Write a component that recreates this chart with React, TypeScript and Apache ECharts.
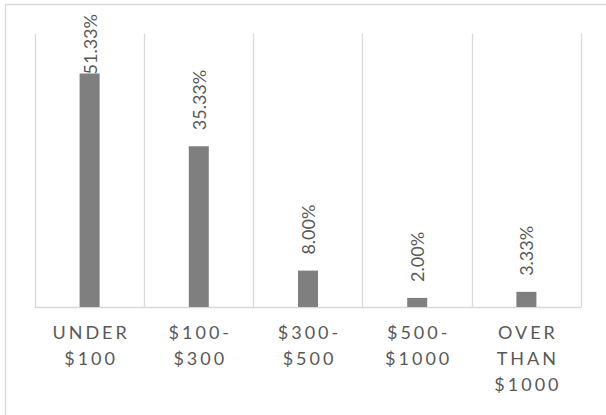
import React, { useEffect, useRef } from "react";
import * as echarts from "echarts";

const categories = ["UNDER\n$100", "$100-\n$300", "$300-\n$500", "$500-\n$1000", "OVER\nTHAN\n$1000"];
const values = [51.33, 35.33, 8.0, 2.0, 3.33];
const yMax = 60;

const FONT = "Lato, 'Open Sans', sans-serif";
const TEXT = "#595959";
const LINE = "#d9d9d9";
const BAR = "#7f7f7f";

export default function App() {
  const ref = useRef<HTMLDivElement>(null);
  useEffect(() => {
    const el = ref.current!;
    const chart = echarts.init(el, null, { renderer: "svg" });
    const seriesData = values.map((v, i) =>
      i === 0 ? { value: v, label: { distance: -1 } } : { value: v }
    );
    chart.setOption({
      animation: false,
      backgroundColor: "#ffffff",
      graphic: [
        {
          type: "rect",
          silent: true,
          z: -10,
          shape: { x: 5.5, y: 4.5, width: 1000, height: 1000 },
          style: { fill: "none", stroke: LINE, lineWidth: 1.3 },
        },
      ],
      grid: { left: 35, right: 25, top: 34, bottom: 108 },
      xAxis: {
        type: "category",
        data: categories,
        axisLine: { show: true, lineStyle: { color: LINE, width: 1.3 } },
        axisTick: { show: false },
        splitLine: { show: true, interval: 0, lineStyle: { color: LINE, width: 1.3 } },
        axisLabel: {
          interval: 0,
          color: TEXT,
          fontFamily: FONT,
          fontSize: 18,
          lineHeight: 26,
          margin: 12,
        },
      },
      yAxis: {
        type: "value",
        min: 0,
        max: yMax,
        show: false,
        splitLine: { show: false },
      },
      series: [
        {
          type: "bar",
          data: seriesData,
          barWidth: 20,
          itemStyle: { color: BAR },
          label: {
            show: true,
            position: "top",
            rotate: 90,
            align: "left",
            verticalAlign: "middle",
            distance: 16,
            color: TEXT,
            fontFamily: FONT,
            fontSize: 18,
            formatter: (p: any) => Number(p.value).toFixed(2) + "%",
          },
        },
      ],
    });
    const apply = () => {
      el.querySelectorAll("text").forEach((t) => {
        const s = t.textContent || "";
        if (s && !s.includes("%")) {
          (t as SVGTextElement).style.letterSpacing = "3px";
          t.setAttribute("dx", "1.5");
        }
      });
    };
    apply();
    chart.on("finished", apply);
    const tm = setTimeout(apply, 50);
    return () => {
      clearTimeout(tm);
      chart.dispose();
    };
  }, []);
  return (
    <div
      ref={ref}
      style={{ position: "fixed", left: 0, top: 0, width: 606, height: 415, background: "#fff" }}
    />
  );
}
